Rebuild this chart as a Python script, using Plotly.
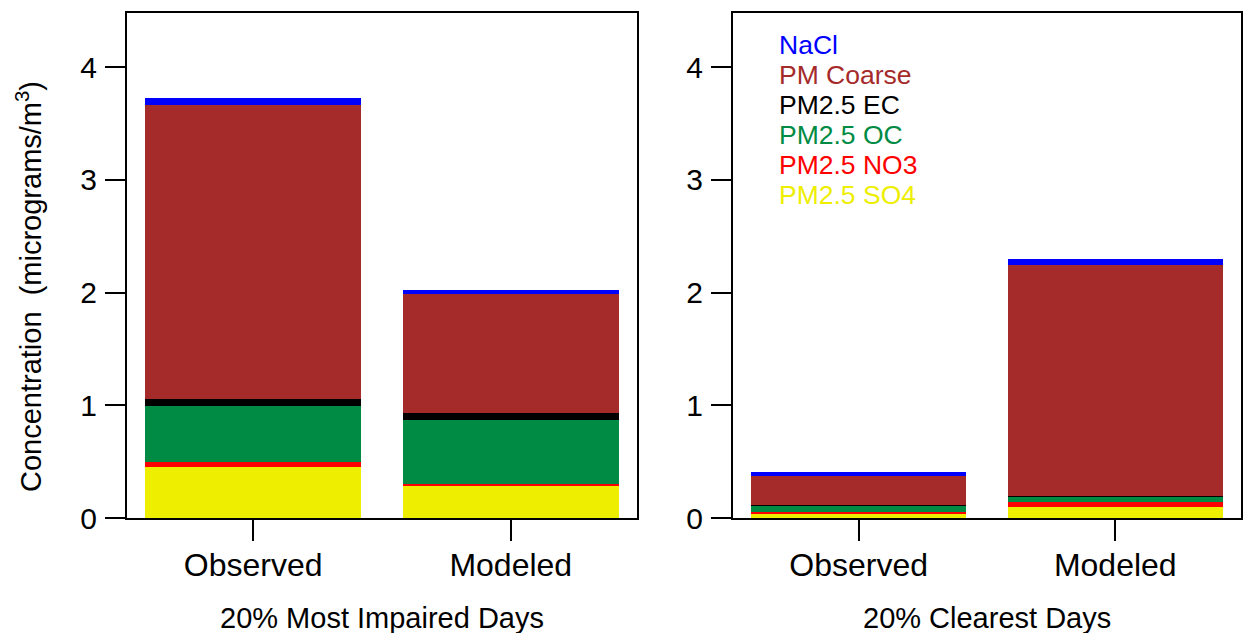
import plotly.graph_objects as go

# ---- data ----
categories = ["Observed", "Modeled"]
species = ["PM2.5 SO4", "PM2.5 NO3", "PM2.5 OC", "PM2.5 EC", "PM Coarse", "NaCl"]
colors = ["#EEEE00", "#FF0000", "#008B45", "#000000", "#A52A2A", "#0000FF"]

# 20% Most Impaired Days (Observed, Modeled)
impaired_so4 = [0.45, 0.28]
impaired_no3 = [0.05, 0.02]
impaired_oc = [0.49, 0.57]
impaired_ec = [0.07, 0.06]
impaired_coarse = [2.60, 1.06]
impaired_nacl = [0.07, 0.03]

# 20% Clearest Days (Observed, Modeled)
clearest_so4 = [0.035, 0.10]
clearest_no3 = [0.02, 0.045]
clearest_oc = [0.055, 0.045]
clearest_ec = [0.003, 0.003]
clearest_coarse = [0.26, 2.05]
clearest_nacl = [0.035, 0.055]

panel_titles = ["20% Most Impaired Days", "20% Clearest Days"]
y_title = "Concentration  (micrograms/m<sup>3</sup>)"
y_ticks = [0, 1, 2, 3, 4]

impaired = [impaired_so4, impaired_no3, impaired_oc, impaired_ec, impaired_coarse, impaired_nacl]
clearest = [clearest_so4, clearest_no3, clearest_oc, clearest_ec, clearest_coarse, clearest_nacl]

# the captured page is 649 px tall and is shown at 633 px
W, H = 1244, 649
REF_H = 633
FONT = "Liberation Sans, Arial, sans-serif"


def fy(y_ref):
    """paper y (0 bottom, 1 top) for a reference pixel row"""
    return 1 - (y_ref * H / REF_H) / H


fig = go.Figure()
xpos = list(range(len(categories)))
for data, xa, ya in [(impaired, "x", "y"), (clearest, "x2", "y2")]:
    for name, col, vals in zip(species, colors, data):
        fig.add_trace(go.Bar(
            x=xpos, y=vals, name=name, marker=dict(color=col, line=dict(width=0)),
            width=0.84, xaxis=xa, yaxis=ya, showlegend=False,
        ))

# panel geometry in reference pixels
left_px = (127, 637)
right_px = (733, 1241)
top_px, bot_px = 13, 518
ydom = [fy(bot_px), fy(top_px)]
tick_len = round(20 * H / REF_H)

axis_common = dict(
    showline=True, linecolor="black", linewidth=2, mirror=True,
    ticks="outside", ticklen=20, tickwidth=2, tickcolor="black",
    showgrid=False, zeroline=False,
)
xfont = dict(family=FONT, size=32, color="black")
yfont = dict(family=FONT, size=30, color="black")

fig.update_layout(
    width=W, height=H,
    margin=dict(l=0, r=0, t=0, b=0),
    paper_bgcolor="white", plot_bgcolor="white",
    barmode="stack", bargap=0,
    xaxis=dict(domain=[left_px[0] / W, left_px[1] / W], range=[-0.49, 1.49], tickfont=xfont,
               tickvals=xpos, ticktext=categories, anchor="y", **axis_common),
    yaxis=dict(domain=ydom, range=[0, 4.48], tickvals=y_ticks, tickfont=yfont,
               anchor="x", **axis_common),
    xaxis2=dict(domain=[right_px[0] / W, right_px[1] / W], range=[-0.49, 1.49], tickfont=xfont,
                tickvals=xpos, ticktext=categories, anchor="y2", **axis_common),
    yaxis2=dict(domain=ydom, range=[0, 4.48], tickvals=y_ticks, tickfont=yfont,
                anchor="x2", **axis_common),
)
fig.update_xaxes(ticklen=tick_len, ticklabelstandoff=-3)
fig.update_yaxes(ticklabelstandoff=2)

annotations = []
# x titles
for title, (a, b) in zip(panel_titles, [left_px, right_px]):
    annotations.append(dict(
        text=title, xref="paper", yref="paper",
        x=(a + b) / 2 / W, y=fy(618), xanchor="center", yanchor="middle",
        showarrow=False, font=dict(family=FONT, size=29, color="black"),
    ))
# y title
annotations.append(dict(
    text=y_title, xref="paper", yref="paper", textangle=-90,
    x=29 / W, y=fy(287), xanchor="center", yanchor="middle",
    showarrow=False, font=dict(family=FONT, size=29, color="black"),
))
# legend text (top to bottom)
for i, (name, col) in enumerate(zip(species[::-1], colors[::-1])):
    annotations.append(dict(
        text=name, xref="paper", yref="paper",
        x=777 / W, y=fy(45 + 30 * i), xanchor="left", yanchor="middle",
        showarrow=False, font=dict(family=FONT, size=26.5, color=col),
    ))
fig.update_layout(annotations=annotations)

fig.write_html(
    "out.html",
    config={"displayModeBar": False},
    post_script="document.body.style.margin='0px';document.body.style.overflow='hidden';",
)
